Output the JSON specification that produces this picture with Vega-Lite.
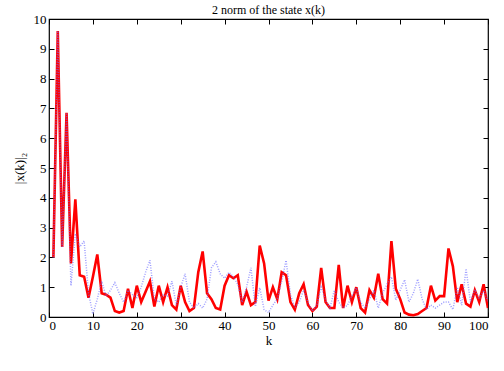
{
  "$schema": "https://vega.github.io/schema/vega-lite/v6.json",
  "autosize": "none",
  "width": 439,
  "height": 298,
  "padding": {"left": 49, "top": 19, "right": 16, "bottom": 54},
  "background": "white",
  "config": {
    "view": {"stroke": "black", "strokeWidth": 1.2},
    "font": "Liberation Serif",
    "axis": {"grid": false, "domain": false, "tickColor": "black", "tickSize": -5, "tickWidth": 1, "labelFont": "Liberation Serif", "labelFontSize": 13, "labelColor": "black", "titleFont": "Liberation Serif", "titleFontSize": 13, "titleFontWeight": "normal", "titleColor": "black"}
  },
  "title": {"text": "2 norm of the state x(k)", "font": "Liberation Serif", "fontSize": 12, "fontWeight": "normal", "color": "black", "offset": -4},
  "data": {"values": [
    {"k":1,"r":2.0,"b":2.0},{"k":2,"r":9.6,"b":9.6},{"k":3,"r":2.35,"b":2.35},{"k":4,"r":6.85,"b":6.85},{"k":5,"r":1.8,"b":1.05},
    {"k":6,"r":3.95,"b":2.8},{"k":7,"r":1.4,"b":2.35},{"k":8,"r":1.35,"b":2.55},{"k":9,"r":0.65,"b":0.8},{"k":10,"r":1.35,"b":0.1},
    {"k":11,"r":2.1,"b":0.6},{"k":12,"r":0.8,"b":1.2},{"k":13,"r":0.75,"b":0.7},{"k":14,"r":0.65,"b":0.9},{"k":15,"r":0.2,"b":1.15},
    {"k":16,"r":0.15,"b":0.8},{"k":17,"r":0.2,"b":0.5},{"k":18,"r":0.95,"b":0.9},{"k":19,"r":0.3,"b":0.75},{"k":20,"r":1.05,"b":0.65},
    {"k":21,"r":0.5,"b":1.0},{"k":22,"r":0.85,"b":1.5},{"k":23,"r":1.2,"b":1.9},{"k":24,"r":0.35,"b":0.6},{"k":25,"r":1.05,"b":0.5},
    {"k":26,"r":0.5,"b":0.75},{"k":27,"r":1.0,"b":0.7},{"k":28,"r":0.4,"b":1.2},{"k":29,"r":0.25,"b":0.4},{"k":30,"r":1.05,"b":1.0},
    {"k":31,"r":0.5,"b":1.45},{"k":32,"r":0.2,"b":0.5},{"k":33,"r":0.3,"b":0.3},{"k":34,"r":1.5,"b":0.45},{"k":35,"r":2.2,"b":0.3},
    {"k":36,"r":0.8,"b":0.6},{"k":37,"r":0.6,"b":1.65},{"k":38,"r":0.3,"b":1.85},{"k":39,"r":0.25,"b":1.45},{"k":40,"r":1.05,"b":1.3},
    {"k":41,"r":1.4,"b":1.5},{"k":42,"r":1.3,"b":1.35},{"k":43,"r":1.4,"b":1.1},{"k":44,"r":0.4,"b":0.5},{"k":45,"r":0.85,"b":1.0},
    {"k":46,"r":0.4,"b":1.65},{"k":47,"r":0.5,"b":0.35},{"k":48,"r":2.4,"b":0.98},{"k":49,"r":1.8,"b":0.25},{"k":50,"r":0.55,"b":0.15},
    {"k":51,"r":1.0,"b":0.4},{"k":52,"r":0.6,"b":0.6},{"k":53,"r":1.5,"b":1.2},{"k":54,"r":1.4,"b":1.9},{"k":55,"r":0.5,"b":0.75},
    {"k":56,"r":0.25,"b":0.32},{"k":57,"r":0.8,"b":0.5},{"k":58,"r":1.1,"b":0.9},{"k":59,"r":0.4,"b":0.5},{"k":60,"r":0.2,"b":0.2},
    {"k":61,"r":0.35,"b":0.4},{"k":62,"r":1.65,"b":1.0},{"k":63,"r":0.5,"b":0.57},{"k":64,"r":0.3,"b":0.3},{"k":65,"r":0.3,"b":0.9},
    {"k":66,"r":1.75,"b":0.5},{"k":67,"r":0.3,"b":0.3},{"k":68,"r":1.05,"b":0.4},{"k":69,"r":0.5,"b":0.7},{"k":70,"r":1.0,"b":0.98},
    {"k":71,"r":0.3,"b":0.5},{"k":72,"r":0.15,"b":0.3},{"k":73,"r":0.9,"b":0.6},{"k":74,"r":0.65,"b":0.9},{"k":75,"r":1.45,"b":0.3},
    {"k":76,"r":0.6,"b":0.8},{"k":77,"r":0.45,"b":1.1},{"k":78,"r":2.55,"b":1.35},{"k":79,"r":0.95,"b":0.57},{"k":80,"r":0.6,"b":0.9},
    {"k":81,"r":0.15,"b":1.25},{"k":82,"r":0.08,"b":0.5},{"k":83,"r":0.06,"b":0.8},{"k":84,"r":0.1,"b":1.27},{"k":85,"r":0.2,"b":0.6},
    {"k":86,"r":0.3,"b":0.25},{"k":87,"r":1.05,"b":0.4},{"k":88,"r":0.55,"b":0.3},{"k":89,"r":0.7,"b":0.4},{"k":90,"r":0.7,"b":0.5},
    {"k":91,"r":2.3,"b":0.5},{"k":92,"r":1.7,"b":0.25},{"k":93,"r":0.5,"b":1.0},{"k":94,"r":1.1,"b":0.4},{"k":95,"r":0.45,"b":1.62},
    {"k":96,"r":0.35,"b":0.5},{"k":97,"r":0.9,"b":0.92},{"k":98,"r":0.5,"b":0.6},{"k":99,"r":1.1,"b":0.9},{"k":100,"r":0.3,"b":0.5}
  ]},
  "layer": [
    {
      "mark": {"type": "line", "color": "#ff0000", "strokeWidth": 2.6, "clip": true},
      "encoding": {
        "x": {"field": "k", "type": "quantitative", "scale": {"domain": [0, 100], "nice": false}, "axis": {"orient": "bottom", "values": [0,10,20,30,40,50,60,70,80,90,100], "title": "k", "labelPadding": 7, "titlePadding": 2}},
        "y": {"field": "r", "type": "quantitative", "scale": {"domain": [0, 10], "nice": false}, "axis": {"orient": "left", "values": [0,1,2,3,4,5,6,7,8,9,10], "title": "|x(k)|₂", "labelPadding": 8, "titlePadding": 7}}
      }
    },
    {
      "mark": {"type": "line", "color": "#6a6aff", "strokeWidth": 1.5, "strokeDash": [1, 1.5], "opacity": 0.65, "clip": true},
      "encoding": {
        "x": {"field": "k", "type": "quantitative", "scale": {"domain": [0, 100], "nice": false}, "axis": {"orient": "top", "values": [0,10,20,30,40,50,60,70,80,90,100], "labels": false, "title": null}},
        "y": {"field": "b", "type": "quantitative", "scale": {"domain": [0, 10], "nice": false}, "axis": {"orient": "right", "values": [0,1,2,3,4,5,6,7,8,9,10], "labels": false, "title": null}}
      }
    }
  ],
  "resolve": {"axis": {"x": "independent", "y": "independent"}}
}
